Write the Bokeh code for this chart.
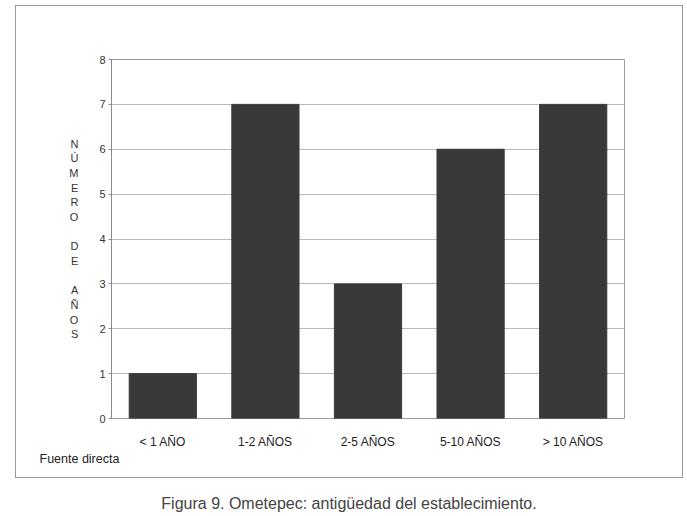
from bokeh.plotting import figure
from bokeh.models import ColumnDataSource, Title, Div, FixedTicker
from bokeh.layouts import column
from bokeh.embed import file_html
from bokeh.resources import INLINE

categories = ["< 1 AÑO", "1-2 AÑOS", "2-5 AÑOS", "5-10 AÑOS", "> 10 AÑOS"]
values = [1, 7, 3, 6, 7]
y_ticks = [0, 1, 2, 3, 4, 5, 6, 7, 8]
y_label = "NÚMERO DE AÑOS"
source_note = "Fuente directa"
caption = "Figura 9. Ometepec: antigüedad del establecimiento."

FONT = "Liberation Sans"

src = ColumnDataSource(dict(cat=categories, val=values))

p = figure(x_range=categories, y_range=(0, 8), width=668, height=473,
           output_backend="svg", toolbar_location=None,
           min_border_left=95, min_border_right=60, min_border_top=53, min_border_bottom=61)
p.styles = {"border": "1px solid #9a9a9a", "margin-left": "15px", "margin-top": "5px"}

p.vbar(x="cat", top="val", width=0.655, source=src, fill_color="#393939", line_color="#393939")

p.outline_line_color = "#9a9a9a"
p.xgrid.grid_line_color = None
p.ygrid.grid_line_color = "#b8b8b8"
p.ygrid.ticker = FixedTicker(ticks=y_ticks)

p.yaxis.ticker = FixedTicker(ticks=y_ticks)
p.yaxis.axis_line_color = "#8a8a8a"
p.yaxis.major_tick_line_color = "#8a8a8a"
p.yaxis.major_tick_out = 3
p.yaxis.major_tick_in = 0
p.yaxis.minor_tick_line_color = None
p.yaxis.major_label_standoff = 3
p.yaxis.major_label_text_font = FONT
p.yaxis.major_label_text_font_size = "11px"
p.yaxis.major_label_text_color = "#333333"
p.yaxis.axis_label = "\n".join(list("NÚMERO")) + "\n\n" + "\n".join(list("DE")) + "\n\n" + "\n".join(list("AÑOS"))
p.yaxis.axis_label_orientation = "horizontal"
p.yaxis.axis_label_text_font = FONT
p.yaxis.axis_label_text_font_style = "normal"
p.yaxis.axis_label_text_font_size = "11px"
p.yaxis.axis_label_text_line_height = 1.22
p.yaxis.axis_label_text_color = "#333333"
p.yaxis.axis_label_standoff = 18

p.xaxis.axis_line_color = None
p.xaxis.major_tick_line_color = None
p.xaxis.minor_tick_line_color = None
p.xaxis.major_label_standoff = 10
p.xaxis.major_label_text_font = FONT
p.xaxis.major_label_text_font_size = "12px"
p.xaxis.major_label_text_color = "#222222"

p.add_layout(Title(text=source_note, align="left", offset=-72, standoff=-4,
                   text_font=FONT, text_font_size="12.5px", text_color="#222222",
                   text_font_style="normal"), "below")

cap = Div(text=caption, width=668,
          styles={"text-align": "center", "font-family": FONT, "font-size": "16px",
                  "color": "#444444", "padding-top": "10px", "margin-left": "15px"})

layout = column(p, cap)
open("out.html", "w").write(file_html(layout, INLINE))
